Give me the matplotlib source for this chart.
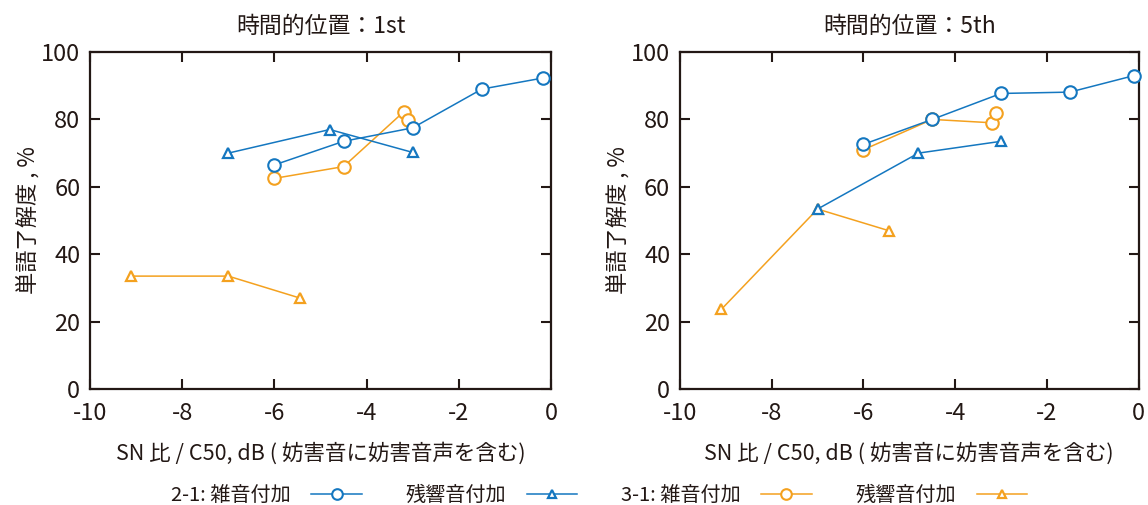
import matplotlib
matplotlib.use('Agg')
import matplotlib.pyplot as plt

plt.rcParams['font.family'] = ['Noto Sans CJK JP', 'DejaVu Sans']
plt.rcParams['axes.unicode_minus'] = False

BLUE = '#1477c0'
ORANGE = '#f4a11f'
INK = '#231815'

# 時間的位置：1st
p1_noise21_x = [-6.0, -4.5, -3.0, -1.5, -0.17]
p1_noise21_y = [66.5, 73.5, 77.5, 89.0, 92.3]
p1_rev21_x = [-7.0, -4.8, -3.0]
p1_rev21_y = [70.0, 77.0, 70.2]
p1_noise31_x = [-6.0, -4.5, -3.2, -3.1]
p1_noise31_y = [62.5, 66.0, 82.2, 79.8]
p1_rev31_x = [-9.1, -7.0, -5.45]
p1_rev31_y = [33.5, 33.5, 27.0]

# 時間的位置：5th
p5_noise21_x = [-6.0, -4.5, -3.0, -1.5, -0.1]
p5_noise21_y = [72.6, 80.0, 87.7, 88.1, 93.0]
p5_rev21_x = [-7.0, -4.8, -3.0]
p5_rev21_y = [53.4, 70.0, 73.5]
p5_noise31_x = [-6.0, -4.5, -3.2, -3.1]
p5_noise31_y = [71.0, 80.0, 79.0, 81.9]
p5_rev31_x = [-9.1, -7.0, -5.45]
p5_rev31_y = [23.6, 53.4, 47.0]

titles = ['時間的位置：1st', '時間的位置：5th']
xticks = [-10, -8, -6, -4, -2, 0]
yticks = [0, 20, 40, 60, 80, 100]
legend_labels = ['2-1: 雑音付加', '残響音付加', '3-1: 雑音付加', '残響音付加']

panels = [
    (p1_noise21_x, p1_noise21_y, p1_rev21_x, p1_rev21_y,
     p1_noise31_x, p1_noise31_y, p1_rev31_x, p1_rev31_y),
    (p5_noise21_x, p5_noise21_y, p5_rev21_x, p5_rev21_y,
     p5_noise31_x, p5_noise31_y, p5_rev31_x, p5_rev31_y),
]

fig = plt.figure(figsize=(11.48, 5.05), dpi=100)
rects = [[0.0784, 0.2297, 0.4016, 0.6673], [0.5923, 0.2297, 0.3995, 0.6673]]

handles = []
for rect, title, data in zip(rects, titles, panels):
    ax = fig.add_axes(rect)
    nx, ny, rx, ry, ox, oy, tx, ty = data
    circ = dict(marker='o', ms=9, mfc='white', mew=1.5, lw=1.1, clip_on=False)
    tri = dict(marker='^', ms=7.5, mfc='white', mew=1.6, lw=1.1, clip_on=False)
    # orange drawn first, blue on top where they overlap
    h3, = ax.plot(ox, oy, color=ORANGE, zorder=3, **circ)
    h4, = ax.plot(tx, ty, color=ORANGE, zorder=3, **tri)
    h1, = ax.plot(nx, ny, color=BLUE, zorder=4, **circ)
    h2, = ax.plot(rx, ry, color=BLUE, zorder=4, **tri)
    handles = [h1, h2, h3, h4]

    ax.set_xlim(-10, 0)
    ax.set_ylim(0, 100)
    ax.set_xticks(xticks)
    ax.set_yticks(yticks)
    ax.tick_params(direction='in', length=7, width=1.5, color=INK,
                   top=True, right=True, labelsize=17, labelcolor=INK)
    ax.tick_params(axis='x', pad=9)
    ax.tick_params(axis='y', pad=7)
    for s in ax.spines.values():
        s.set_linewidth(1.6)
        s.set_color(INK)
    ax.set_title(title, fontsize=16.5, color=INK, pad=14)
    ax.set_xlabel('SN 比 / C50, dB ( 妨害音に妨害音声を含む)', fontsize=15.5, color=INK, labelpad=13)
    ax.set_ylabel('単語了解度 , %', fontsize=16, color=INK, labelpad=1)

fig.legend(handles, legend_labels, loc='lower center', bbox_to_anchor=(0.522, -0.037),
           ncol=4, frameon=False, markerfirst=False, fontsize=14.5, handlelength=2.5,
           columnspacing=2.2, handletextpad=1.0, labelcolor=INK, markerscale=0.85)

fig.savefig('out.png', dpi=100, facecolor='white')
